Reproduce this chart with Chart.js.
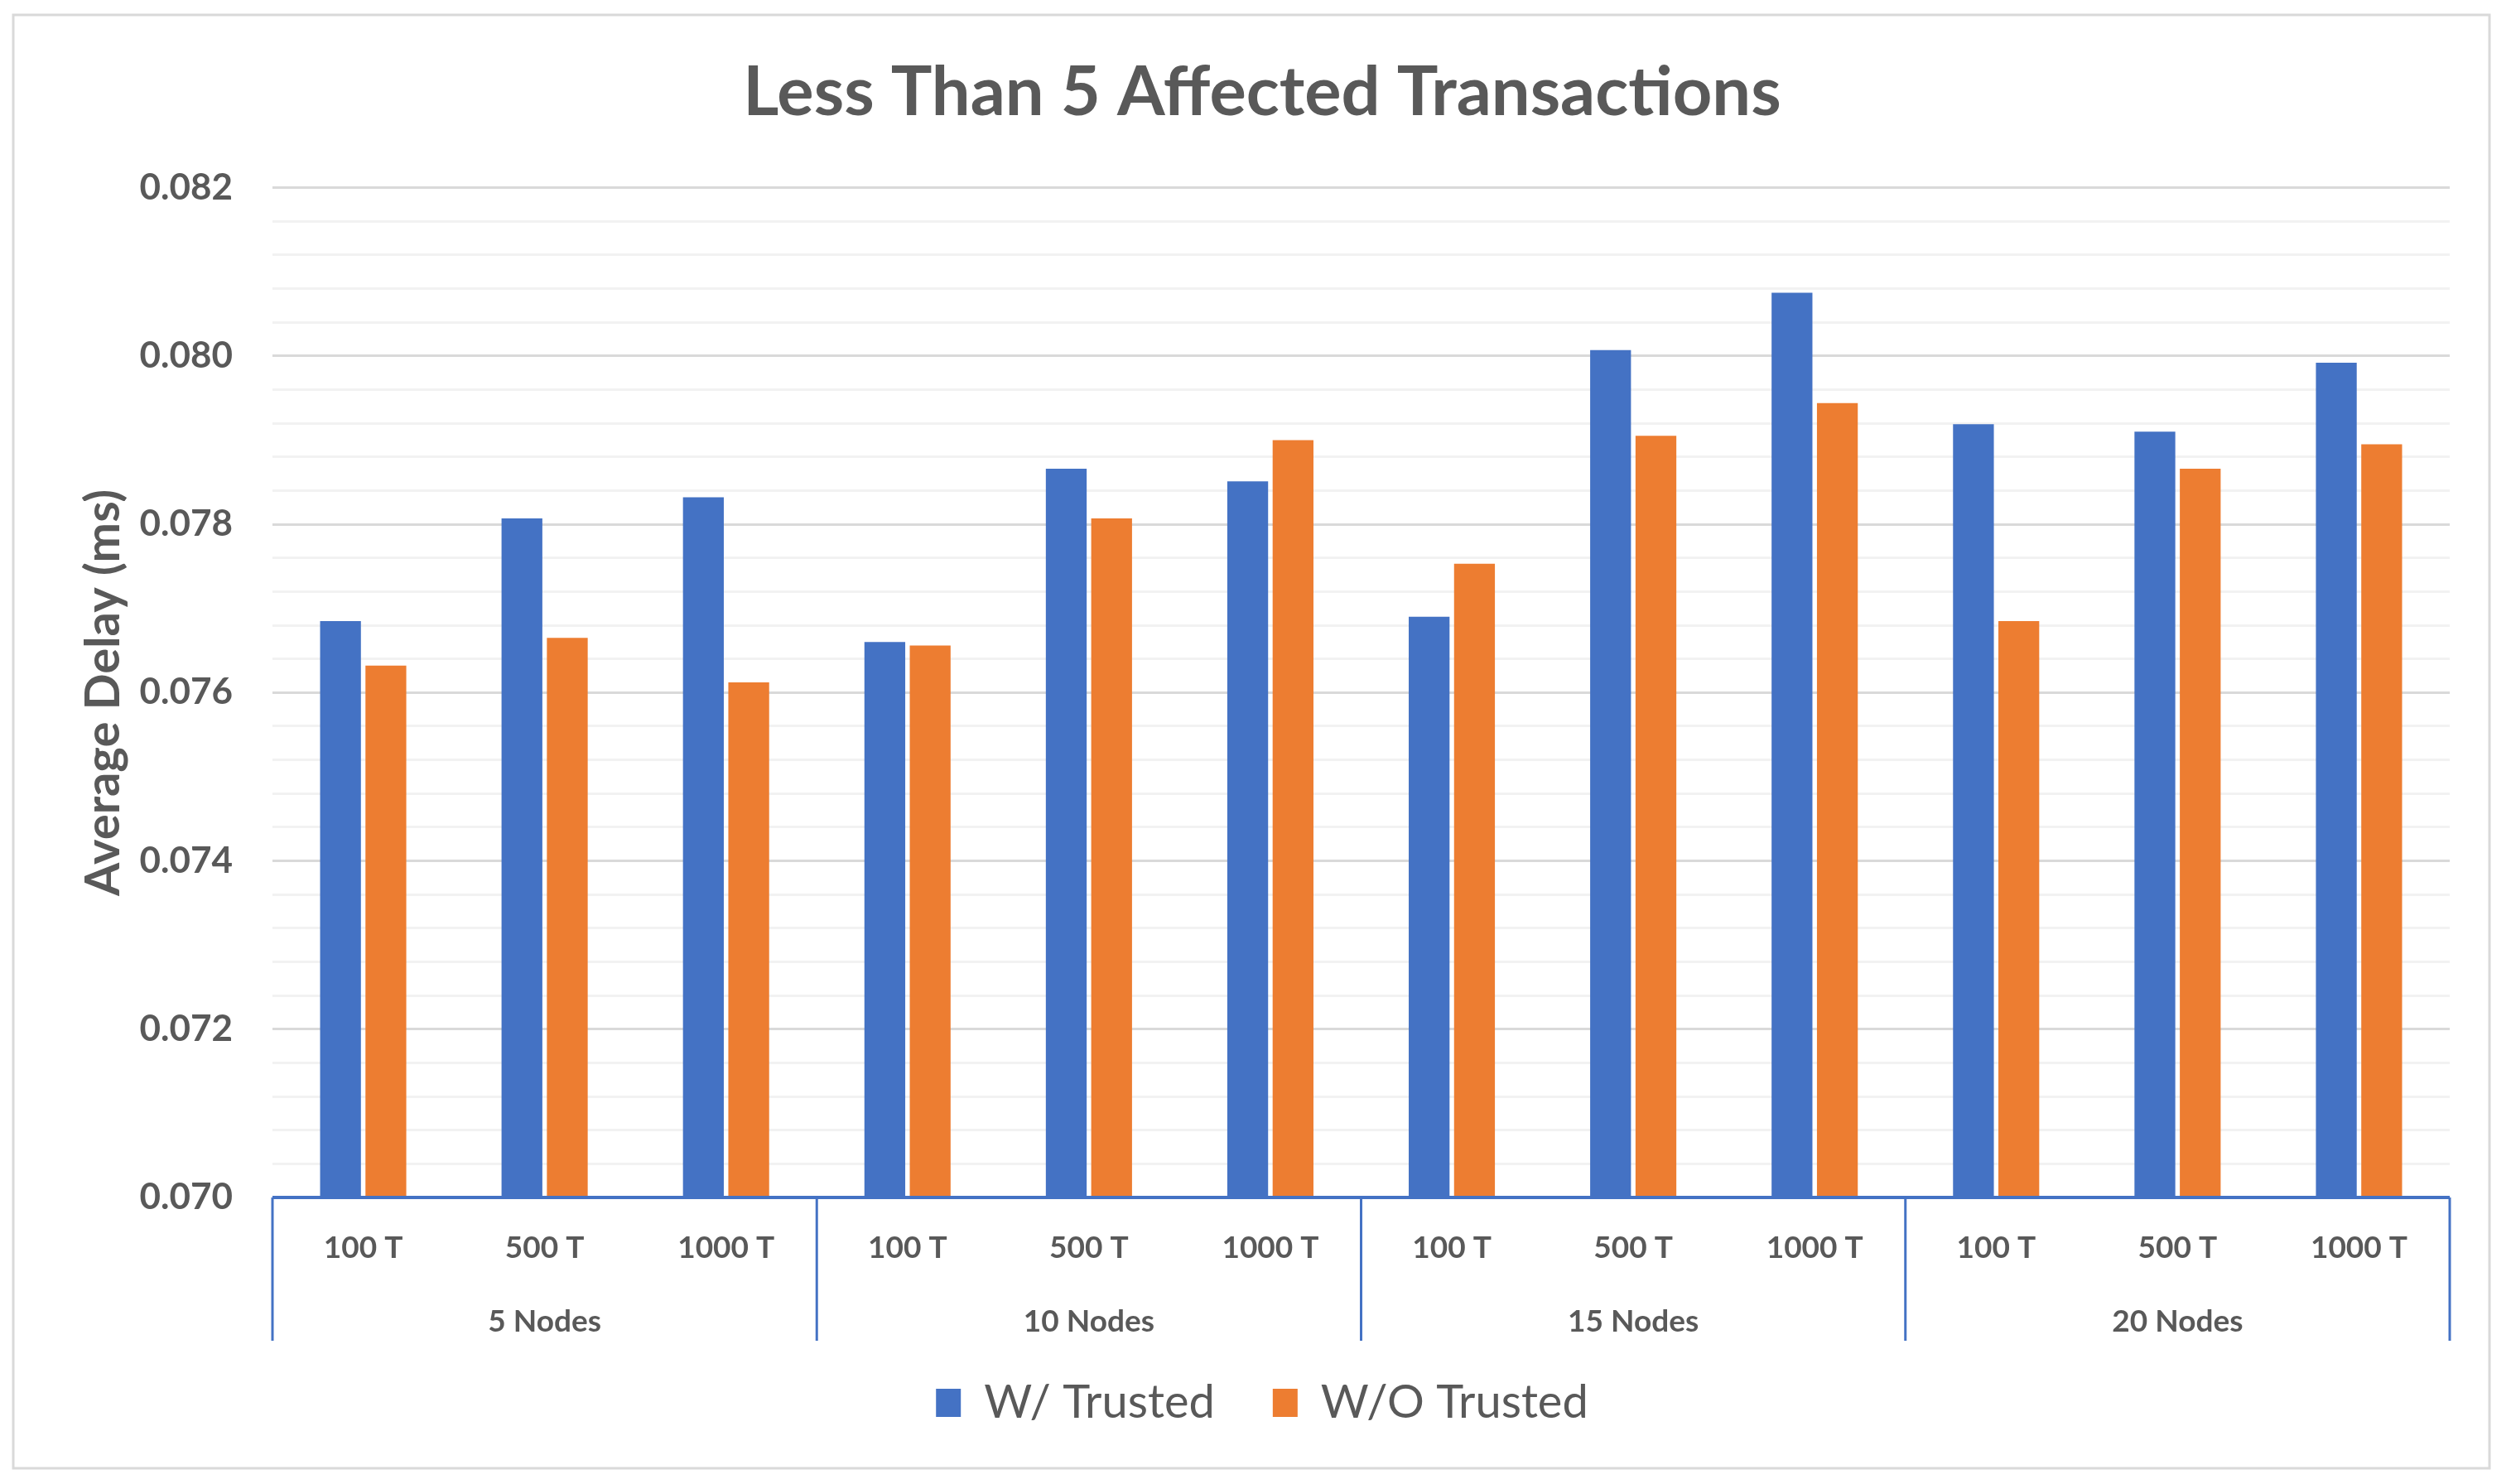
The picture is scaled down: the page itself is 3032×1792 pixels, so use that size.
<!DOCTYPE html>
<html>
<head>
<meta charset="utf-8">
<script src="https://cdn.jsdelivr.net/npm/chart.js@4.4.1/dist/chart.umd.min.js"></script>
<style>
    html, body { margin: 0; padding: 0; background: #ffffff; }
    #wrap { width: 3032px; height: 1792px; }
</style>
</head>
<body>
<div id="wrap"><canvas id="delayChart" width="3032" height="1792"></canvas></div>
<script>
// ---- datos ----
const groups = ['5 Nodes', '10 Nodes', '15 Nodes', '20 Nodes'];
const subLabels = ['100 T', '500 T', '1000 T'];
const withTrusted    = [0.07685, 0.07807, 0.07832, 0.07660, 0.07866, 0.07851, 0.07690, 0.08007, 0.08075, 0.07919, 0.07910, 0.07992];
const withoutTrusted = [0.07632, 0.07665, 0.07612, 0.07656, 0.07807, 0.07900, 0.07753, 0.07905, 0.07944, 0.07685, 0.07866, 0.07895];
const yTicks = [0.070, 0.072, 0.074, 0.076, 0.078, 0.080, 0.082];

const labels = [];
groups.forEach(g => subLabels.forEach(s => labels.push([s, g])));

const textColor = '#595959';
const blue = '#4472C4';
const orange = '#ED7D31';

function isMajor(v) {
    return yTicks.some(t => Math.abs(t - v) < 1e-7);
}

// marco gris alrededor del grafico
const framePlugin = {
    id: 'frame',
    beforeDraw(chart) {
        const ctx = chart.ctx;
        ctx.save();
        ctx.fillStyle = '#ffffff';
        ctx.fillRect(0, 0, chart.width, chart.height);
        ctx.strokeStyle = '#D9D9D9';
        ctx.lineWidth = 3;
        ctx.strokeRect(16, 18, 2990, 1755);
        ctx.restore();
    }
};

// eje X de dos niveles (estilo Excel)
const groupAxisPlugin = {
    id: 'groupAxis',
    afterDraw(chart) {
        const { ctx, chartArea, scales: { x } } = chart;
        const base = chartArea.bottom;
        const n = subLabels.length;
        ctx.save();
        ctx.strokeStyle = blue;
        ctx.lineWidth = 3;
        for (let g = 0; g <= groups.length; g++) {
            let xp;
            if (g === 0) xp = chartArea.left;
            else if (g === groups.length) xp = chartArea.right;
            else xp = (x.getPixelForValue(g * n - 1) + x.getPixelForValue(g * n)) / 2;
            ctx.beginPath();
            ctx.moveTo(xp, base);
            ctx.lineTo(xp, base + 173);
            ctx.stroke();
        }
        ctx.lineWidth = 4;
        ctx.beginPath();
        ctx.moveTo(chartArea.left, base);
        ctx.lineTo(chartArea.right, base);
        ctx.stroke();

        ctx.fillStyle = textColor;
        ctx.textAlign = 'center';
        ctx.textBaseline = 'middle';
        ctx.font = 'bold 37px Lato';
        labels.forEach((l, i) => {
            ctx.fillText(subLabels[i % n], x.getPixelForValue(i), base + 61);
        });
        groups.forEach((g, gi) => {
            const cx = (x.getPixelForValue(gi * n) + x.getPixelForValue(gi * n + n - 1)) / 2;
            ctx.fillText(g, cx, base + 150);
        });
        ctx.restore();
    }
};

new Chart(document.getElementById('delayChart'), {
    type: 'bar',
    data: {
        labels: labels,
        datasets: [
            {
                label: 'W/ Trusted',
                data: withTrusted,
                backgroundColor: blue,
                barPercentage: 0.9,
                categoryPercentage: 0.5
            },
            {
                label: 'W/O Trusted',
                data: withoutTrusted,
                backgroundColor: orange,
                barPercentage: 0.9,
                categoryPercentage: 0.5
            }
        ]
    },
    options: {
        responsive: false,
        devicePixelRatio: 1,
        animation: false,
        layout: { padding: { left: 90, right: 74, top: 0, bottom: 60 } },
        plugins: {
            title: {
                display: true,
                text: 'Less Than 5 Affected Transactions',
                color: textColor,
                font: { family: 'Lato', size: 83, weight: 'bold' },
                padding: { top: 62, bottom: 65 }
            },
            legend: {
                position: 'bottom',
                labels: {
                    color: textColor,
                    font: { family: 'Lato', size: 56 },
                    boxWidth: 30,
                    boxHeight: 34,
                    padding: 70
                }
            },
            tooltip: { enabled: false }
        },
        scales: {
            x: {
                grid: { display: false },
                border: { display: false },
                ticks: { display: false },
                afterFit: scale => { scale.height = 150; }
            },
            y: {
                min: 0.070,
                max: 0.082,
                border: { display: false },
                ticks: {
                    stepSize: 0.0004,
                    autoSkip: false,
                    padding: 48,
                    color: textColor,
                    font: { family: 'Lato', size: 44, weight: 'bold' },
                    callback: v => isMajor(v) ? v.toFixed(3) : ''
                },
                grid: {
                    drawTicks: false,
                    lineWidth: 3,
                    color: ctx => isMajor(ctx.tick.value) ? '#D9D9D9' : '#F2F2F2'
                },
                title: {
                    display: true,
                    text: 'Average Delay (ms)',
                    color: textColor,
                    font: { family: 'Lato', size: 58, weight: 'bold' },
                    padding: { top: 0, bottom: 0 }
                },
                afterFit: scale => { scale.width = 239; }
            }
        }
    },
    plugins: [framePlugin, groupAxisPlugin]
});
</script>
</body>
</html>
